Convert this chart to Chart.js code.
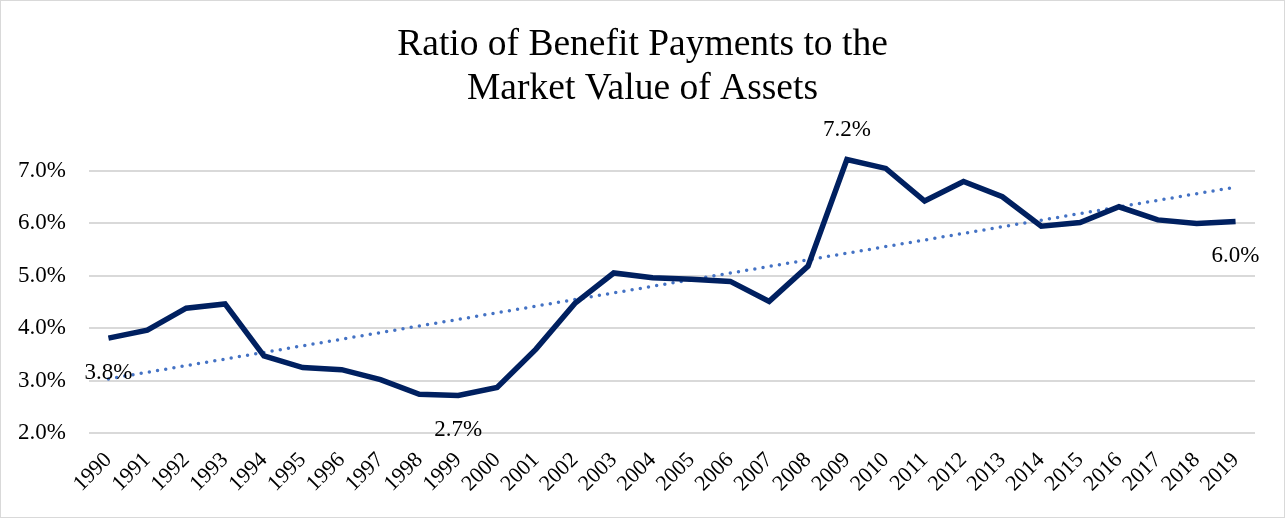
<!DOCTYPE html>
<html>
<head>
<meta charset="utf-8">
<script src="https://cdn.jsdelivr.net/npm/chart.js@4/dist/chart.umd.min.js"></script>
<style>
  html, body { margin: 0; padding: 0; background: #fff; }
  #wrap { width: 1285px; height: 518px; position: relative; }
</style>
</head>
<body>
<div id="wrap"><canvas id="c" width="1285" height="518"></canvas></div>
<script>
// ---- data ----
const years = ['1990','1991','1992','1993','1994','1995','1996','1997','1998','1999',
               '2000','2001','2002','2003','2004','2005','2006','2007','2008','2009',
               '2010','2011','2012','2013','2014','2015','2016','2017','2018','2019'];
const ratioPct = [3.81, 3.96, 4.38, 4.46, 3.47, 3.25, 3.21, 3.02, 2.74, 2.72,
                  2.87, 3.60, 4.47, 5.05, 4.96, 4.93, 4.89, 4.51, 5.18, 7.21,
                  7.04, 6.42, 6.79, 6.50, 5.94, 6.01, 6.31, 6.06, 5.99, 6.03];
const yTickValues = [2, 3, 4, 5, 6, 7];
const labelledIdx = [0, 9, 19, 29];
const chartTitle = ['Ratio of Benefit Payments to the', 'Market Value of Assets'];

// linear trendline (least squares on the series)
function linearTrend(vals) {
  const n = vals.length;
  let sx = 0, sy = 0, sxy = 0, sxx = 0;
  vals.forEach((v, i) => { sx += i; sy += v; sxy += i * v; sxx += i * i; });
  const b = (n * sxy - sx * sy) / (n * sxx - sx * sx);
  const a = (sy - b * sx) / n;
  return vals.map((_, i) => a + b * i);
}
const trend = linearTrend(ratioPct);

const FONT = '"Liberation Serif", "Times New Roman", serif';

const labelPos = { 0: 'below', 9: 'below', 19: 'above', 29: 'below' };

const pointLabels = {
  id: 'pointLabels',
  afterDatasetsDraw(chart) {
    const ctx = chart.ctx;
    const meta = chart.getDatasetMeta(0);
    ctx.save();
    ctx.font = '23px ' + FONT;
    ctx.fillStyle = '#000';
    ctx.textAlign = 'center';
    ctx.textBaseline = 'middle';
    labelledIdx.forEach(i => {
      const p = meta.data[i];
      const dy = labelPos[i] === 'above' ? -30 : 34.5;
      ctx.fillText(ratioPct[i].toFixed(1) + '%', p.x, p.y + dy);
    });
    ctx.restore();
  }
};

const frame = {
  id: 'frame',
  beforeDraw(chart) {
    const ctx = chart.ctx;
    ctx.save();
    ctx.fillStyle = '#fff';
    ctx.fillRect(0, 0, chart.width, chart.height);
    ctx.restore();
  },
  afterDraw(chart) {
    const ctx = chart.ctx;
    ctx.save();
    ctx.strokeStyle = '#d9d9d9';
    ctx.lineWidth = 1;
    ctx.strokeRect(0.5, 0.5, chart.width - 1, chart.height - 1);
    ctx.restore();
  }
};

new Chart(document.getElementById('c'), {
  type: 'line',
  data: {
    labels: years,
    datasets: [
      {
        label: 'Ratio',
        data: ratioPct,
        borderColor: '#002060',
        borderWidth: 5.5,
        pointRadius: 0,
        tension: 0,
        fill: false,
        order: 1
      },
      {
        label: 'Trend',
        data: trend,
        borderColor: '#4472C4',
        borderWidth: 3.5,
        borderDash: [0, 8.3],
        borderCapStyle: 'round',
        pointRadius: 0,
        tension: 0,
        fill: false,
        order: 2
      }
    ]
  },
  options: {
    responsive: false,
    animation: false,
    devicePixelRatio: 1,
    layout: { padding: { left: 0, right: 0, top: 0, bottom: 7 } },
    plugins: {
      legend: { display: false },
      tooltip: { enabled: false },
      title: {
        display: true,
        text: chartTitle,
        color: '#000',
        font: { family: FONT, size: 37.5, weight: 'normal', lineHeight: 1.15 },
        padding: { top: 24, bottom: 34 }
      }
    },
    scales: {
      x: {
        offset: true,
        grid: { display: false, drawTicks: false },
        border: { display: false },
        afterFit(scale) { scale.paddingLeft = 0; scale.paddingRight = 0; },
        ticks: {
          color: '#000',
          font: { family: FONT, size: 22 },
          minRotation: 45,
          maxRotation: 45,
          autoSkip: false,
          padding: 14
        }
      },
      y: {
        min: 2,
        max: 7.5,
        afterBuildTicks(axis) {
          axis.ticks = yTickValues.map(v => ({ value: v }));
        },
        afterFit(scale) { scale.width = 89; },
        grid: { color: '#d9d9d9', lineWidth: 2, drawTicks: false },
        border: { display: false },
        ticks: {
          color: '#000',
          font: { family: FONT, size: 23 },
          padding: 23,
          callback: v => Number(v).toFixed(1) + '%'
        }
      },
      yRightSpace: {
        type: 'linear',
        position: 'right',
        display: true,
        afterFit(scale) { scale.width = 30; },
        grid: { display: false, drawTicks: false },
        border: { display: false },
        ticks: { display: false }
      }
    }
  },
  plugins: [frame, pointLabels]
});
</script>
</body>
</html>
